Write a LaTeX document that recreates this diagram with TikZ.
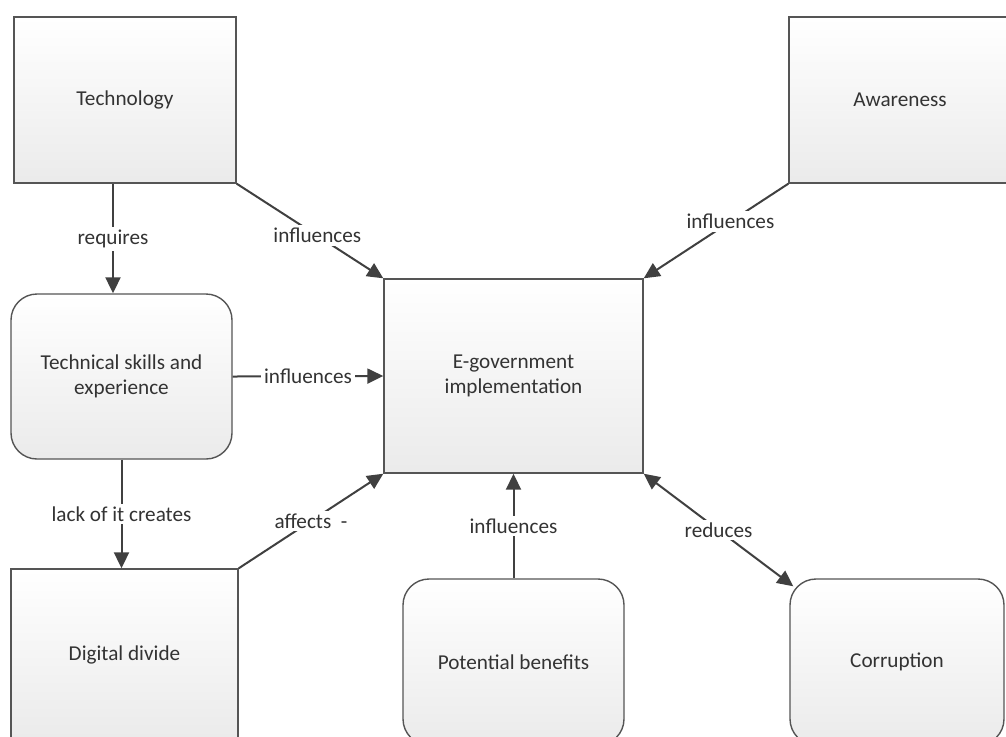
\documentclass[tikz,border=0pt]{standalone}
\usepackage{fontspec}
\setmainfont{Carlito}
\usetikzlibrary{arrows.meta,calc,shadings}
\definecolor{edgegray}{HTML}{555555}
\definecolor{linkgray}{HTML}{404040}
\definecolor{textgray}{HTML}{333333}
\begin{document}
\begin{tikzpicture}[x=0.5pt, y=-0.5pt,
  every node/.style={font=\fontsize{10.6}{12.8}\selectfont, text=textgray, align=center},
  box/.style={draw=edgegray, line width=0.7pt, top color=white, bottom color=black!8, inner sep=0pt},
  roundbox/.style={box, rounded corners=13pt},
  link/.style={draw=linkgray, line width=1pt, -{Triangle[length=8pt, width=7.5pt]}},
  lbl/.style={fill=white, inner sep=1.5pt}]
  \useasboundingbox (0,0) rectangle (1006,736);
  % factors
  \node[box, minimum width=111pt, minimum height=83pt] (tech) at (125,100) {Technology};
  \node[box, minimum width=111pt, minimum height=83pt] (aware) at (900,100) {Awareness};
  \node[roundbox, minimum width=110.5pt, minimum height=82.5pt] (skills) at (121.5,376.5) {Technical skills and\\experience};
  \node[box, minimum width=129.5pt, minimum height=97pt] (egov) at (513.5,376) {E-government\\implementation};
  \node[box, minimum width=113.5pt, minimum height=86pt] (divide) at (124.5,655) {Digital divide};
  \node[roundbox, minimum width=110.5pt, minimum height=83pt] (benefits) at (513.5,662) {Potential benefits};
  \node[roundbox, minimum width=107pt, minimum height=83pt] (corrupt) at (897,662) {Corruption};
  % links
  \draw[link] ($(tech.south)+(-12,0)$) coordinate (rq) -- node[lbl] {requires} (rq |- skills.north);
  \draw[link] (tech.south east) -- node[lbl, pos=0.55] {influences} (egov.north west);
  \draw[link] (aware.south west) -- node[lbl, pos=0.4] {influences} (egov.north east);
  \draw[link] (skills.east) -- node[lbl] {influences} (egov.west);
  \draw[link] (skills.south) -- node[lbl] {lack of it creates} (skills.south |- divide.north);
  \draw[link] (divide.north east) -- node[lbl] {affects\ \ -} (egov.south west);
  \draw[link] (benefits.north) -- node[lbl] {influences} (egov.south);
  \draw[link, {Triangle[length=8pt, width=7.5pt]}-{Triangle[length=8pt, width=7.5pt]}] (egov.south east) -- node[lbl] {reduces} ($(corrupt.north west)+(4,8)$);
\end{tikzpicture}
\end{document}
